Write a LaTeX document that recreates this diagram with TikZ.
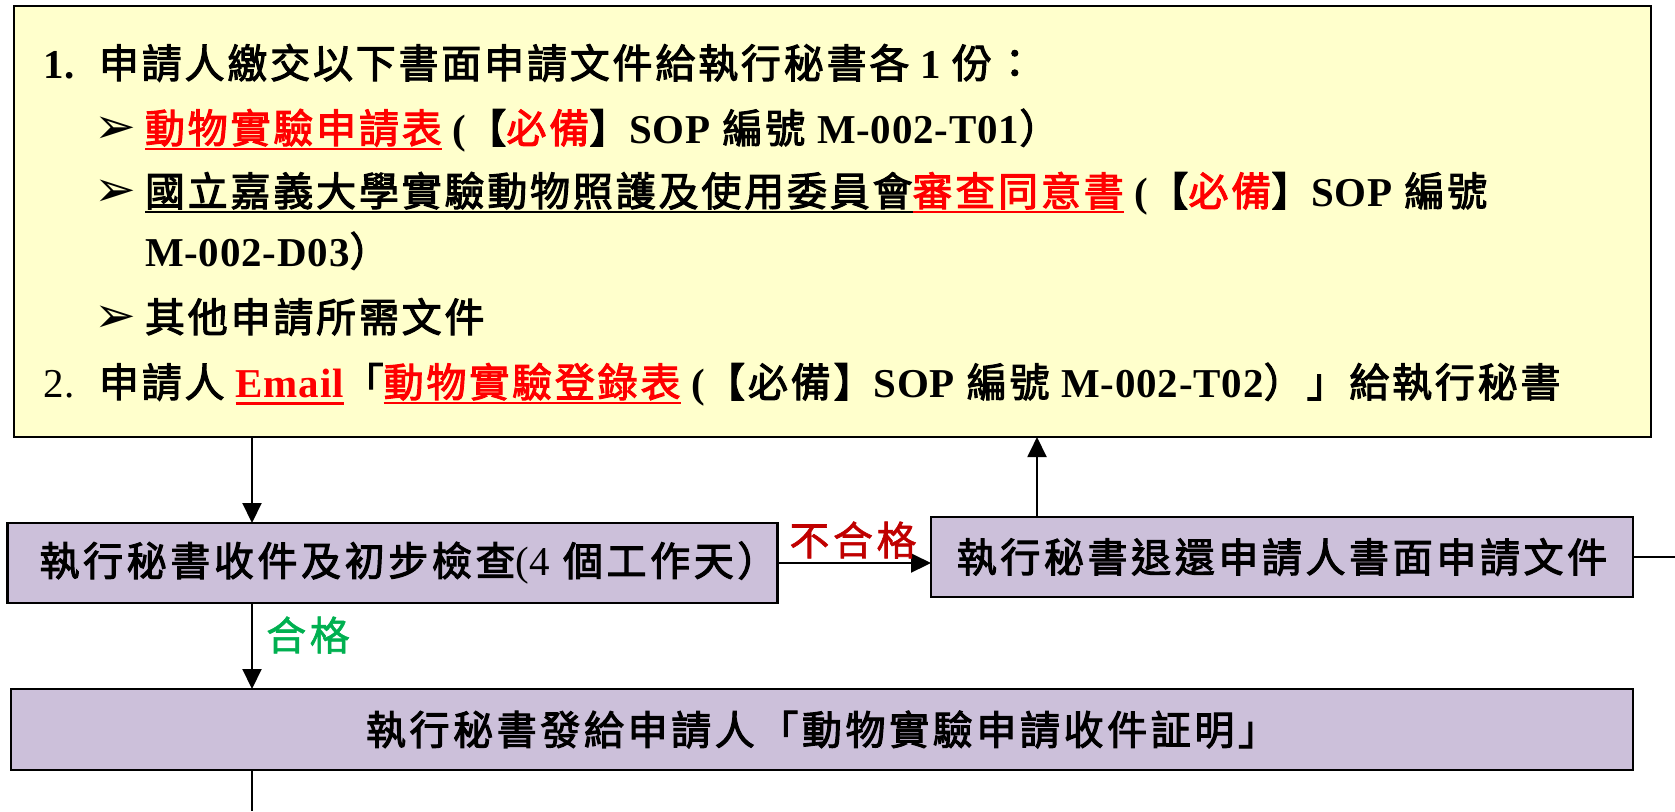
\documentclass[tikz,border=0pt]{standalone}
\usepackage{fontspec}
\usetikzlibrary{arrows.meta}
\setmainfont{Liberation Serif}
\newfontfamily\cjkA{Noto Sans CJK TC}[LetterSpace=7, FakeBold=2.6]
\newfontfamily\cjkB{Noto Sans CJK TC}[LetterSpace=9, FakeBold=2.6]
\newfontfamily\cjkC{Noto Sans CJK TC}[LetterSpace=9, FakeBold=1.5]
\newfontfamily\latf{Liberation Serif}[LetterSpace=2]
\newfontfamily\symf{DejaVu Sans}
\definecolor{yel}{HTML}{FFFFCC}
\definecolor{lav}{HTML}{CCC0DA}
\definecolor{rd}{HTML}{FF0000}
\definecolor{drd}{HTML}{C00000}
\definecolor{grn}{HTML}{00B050}
\newcommand\lt[1]{{\fontsize{20.5pt}{22pt}\selectfont\latf\bfseries #1}}
\newcommand\txtR[1]{{\color{rd}#1}}
\newsavebox\ulbox
\newcommand\ulin[2][black]{\sbox\ulbox{#2}\rlap{\textcolor{#1}{\rule[-3.6pt]{\wd\ulbox}{1pt}}}\usebox\ulbox}
\newcommand\ulinE[2][black]{\sbox\ulbox{#2}\rlap{\textcolor{#1}{\rule[-4.2pt]{\wd\ulbox}{1.6pt}}}\usebox\ulbox}
\newcommand\bul{\makebox[25.5pt][l]{\fontsize{25pt}{25pt}\selectfont\symf ➢}}
\newcommand\opn{\lt{\ (}}
\tikzset{
  every node/.style={inner sep=0pt, outer sep=0pt},
  ybox/.style={draw=black, fill=yel, line width=1.4pt, minimum width=818.5pt, minimum height=215.5pt},
  pbox/.style={draw=black, fill=lav, line width=1.4pt, minimum height=40pt,
    font=\fontsize{20pt}{22pt}\selectfont\cjkB},
  yline/.style={anchor=base west, font=\fontsize{20pt}{22pt}\selectfont\cjkA},
  lbl/.style={font=\fontsize{20pt}{22pt}\selectfont\cjkC},
  arr/.style={-{Triangle[length=10pt,width=9.5pt]}, line width=1pt},
  ln/.style={line width=1pt}
}
\begin{document}
\begin{tikzpicture}[x=0.5pt, y=-0.5pt]
\useasboundingbox (0,0) rectangle (1675,811);
% main request box
\node[ybox] (req) at (832.5,221.5) {};
\node[yline] (l1) at (43,78) {\makebox[28pt][l]{\lt{1.}}申請人繳交以下書面申請文件給執行秘書各\lt{\ 1\ }份：};
\node[yline] (l2) at (94,143) {\bul\ulin[rd]{\txtR{動物實驗申請表}}\opn【\txtR{必備}】\lt{SOP} 編號 \lt{M-002-T01}）};
\node[yline] (l3) at (94,206) {\bul\ulin{國立嘉義大學實驗動物照護及使用委員會}\ulin[rd]{\txtR{審查同意書}}\opn【\txtR{必備}】\lt{SOP} 編號};
\node[yline] (l4) at (145,266) {\lt{M-002-D03}）};
\node[yline] (l5) at (94,332) {\bul 其他申請所需文件};
\node[yline] (l6) at (43,397) {\makebox[28pt][l]{\lt{\mdseries 2.}}申請人\lt{\ }\ulinE[rd]{\txtR{\lt{Email}}}「\ulin[rd]{\txtR{動物實驗登錄表}}\opn【必備】\lt{SOP} 編號 \lt{M-002-T02}）」給執行秘書};
% process boxes
\node[pbox, minimum width=381.5pt] (b1) at (392.5,563) {\hspace{16pt}執行秘書收件及初步檢查{\fontsize{20.5pt}{22pt}\selectfont\latf (4}\ 個工作天）};
\node[pbox, minimum width=351pt] (b2) at (1282,557) {執行秘書退還申請人書面申請文件};
\node[pbox, minimum width=811pt, minimum height=40.5pt] (b3) at (822,729.5) {執行秘書發給申請人「動物實驗申請收件証明」};
% helper coordinates
\coordinate (xa) at (252,0);
\coordinate (xb) at (1037,0);
\coordinate (bot) at (252,811);
\coordinate (rt) at (1675,557);
% connectors
\draw[arr] (req.south -| xa) -- (b1.north -| xa);
\draw[arr] (b1.east) -- (b2.west |- b1.east);
\draw[arr] (b2.north -| xb) -- (req.south -| xb);
\draw[arr] (b1.south -| xa) -- (b3.north -| xa);
\draw[ln] (b3.south -| xa) -- (bot);
\draw[ln] (b2.east) -- (rt);
% labels
\node[lbl, text=drd] (ng) at (853,540) {不合格};
\node[lbl, text=grn] (ok) at (308,635) {合格};
\end{tikzpicture}
\end{document}
